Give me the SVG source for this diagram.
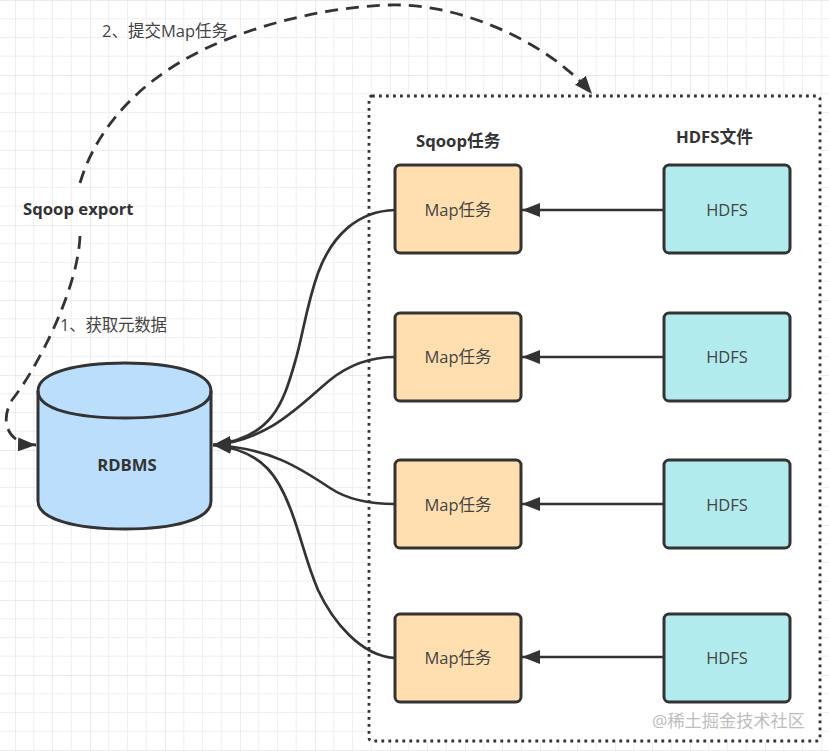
<svg xmlns="http://www.w3.org/2000/svg" width="829" height="751" viewBox="0 0 829 751">
<style>
text{font-family:"Open Sans","Noto Sans CJK SC",sans-serif;fill:#333;}
.lbl{font-size:16.5px;fill:#444;font-family:"Open Sans","Noto Sans CJK SC",sans-serif;}
.ctr{text-anchor:middle;}
.b{font-weight:700;font-size:16.7px;font-family:"Open Sans","Noto Sans CJK SC",sans-serif;}
.box{stroke:#333;stroke-width:3;}
.map rect{fill:#ffdfb0;}
.hdfs rect{fill:#b2ebee;}
.node-t{font-size:16.5px;fill:#444;font-family:"Open Sans","Noto Sans CJK SC",sans-serif;text-anchor:middle;}
.c{fill:none;stroke:#333;stroke-width:2.7;}
.d{fill:none;stroke:#333;stroke-width:2.8;stroke-dasharray:13 8;}
</style>
<defs>
<pattern id="g" width="75" height="75" patternUnits="userSpaceOnUse" x="15" y="0">
<path d="M18.75 0V75M37.5 0V75M56.25 0V75M0 18.75H75M0 37.5H75M0 56.25H75" fill="none" stroke="#efefef" stroke-width="1"/>
<path d="M0 0V75M0 0H75" fill="none" stroke="#e6e6e6" stroke-width="1.4"/>
</pattern>
<marker id="a" markerUnits="userSpaceOnUse" markerWidth="20" markerHeight="16" refX="18" refY="7" orient="auto">
<path d="M0 0L18 7L0 14Z" fill="#333"/>
</marker>
</defs>
<rect width="829" height="751" fill="#fff"/>
<rect width="829" height="751" fill="url(#g)"/>
<rect x="369" y="96" width="451" height="645" fill="#fff" stroke="#333" stroke-width="2.8" stroke-dasharray="2.8 4.2" rx="3"/>
<g id="connectors">
<path class="d" d="M80 183C98 122 150 68 233 37C275 21 330 7 390 5C460 3 548 42 592 94" marker-end="url(#a)"/>
<path class="d" d="M80 236C78 290 36 370 12 400C0 420 6 444 36 445" marker-end="url(#a)"/>
<path class="c" d="M395 210C358 211 332 235 318 273C306 307 303 335 295 362C283 404 272 438 213 445" marker-end="url(#a)"/>
<path class="c" d="M395 357C365 357 345 368 330 380C300 405 270 440 213 445" marker-end="url(#a)"/>
<path class="c" d="M395 504C365 504 345 498 330 488C300 468 270 448 213 445" marker-end="url(#a)"/>
<path class="c" d="M395 658C360 656 332 620 318 590C306 562 302 540 292 513C280 480 265 450 213 445" marker-end="url(#a)"/>
<path class="c" d="M664 210H522" marker-end="url(#a)"/>
<path class="c" d="M664 357H522" marker-end="url(#a)"/>
<path class="c" d="M664 504H522" marker-end="url(#a)"/>
<path class="c" d="M664 657H522" marker-end="url(#a)"/>
</g>
<g id="rdbms">
<path d="M38 391C38 372 78 363 125 363C172 363 211 372 211 391V501C211 520 172 529 125 529C78 529 38 520 38 501Z" fill="#bbdefd" class="box"/>
<path d="M38 391C38 410 78 418 125 418C172 418 211 410 211 391" fill="none" class="box"/>
<text x="127" y="471" class="b ctr">RDBMS</text>
</g>
<g id="map1" class="map"><rect class="box" x="395" y="165" width="126" height="88" rx="5"/><text class="node-t" x="458" y="216">Map任务</text></g>
<g id="map2" class="map"><rect class="box" x="395" y="313" width="126" height="88" rx="5"/><text class="node-t" x="458" y="363">Map任务</text></g>
<g id="map3" class="map"><rect class="box" x="395" y="460" width="126" height="88" rx="5"/><text class="node-t" x="458" y="511">Map任务</text></g>
<g id="map4" class="map"><rect class="box" x="395" y="614" width="126" height="88" rx="5"/><text class="node-t" x="458" y="664">Map任务</text></g>
<g id="hdfs1" class="hdfs"><rect class="box" x="664" y="165" width="126" height="88" rx="5"/><text class="node-t" x="727" y="216">HDFS</text></g>
<g id="hdfs2" class="hdfs"><rect class="box" x="664" y="313" width="126" height="88" rx="5"/><text class="node-t" x="727" y="363">HDFS</text></g>
<g id="hdfs3" class="hdfs"><rect class="box" x="664" y="460" width="126" height="88" rx="5"/><text class="node-t" x="727" y="511">HDFS</text></g>
<g id="hdfs4" class="hdfs"><rect class="box" x="664" y="614" width="126" height="88" rx="5"/><text class="node-t" x="727" y="664">HDFS</text></g>
<text class="lbl" x="102" y="37">2、提交Map任务</text>
<text class="b" x="23" y="215">Sqoop export</text>
<text class="lbl" x="60" y="331" textLength="107">1、获取元数据</text>
<text class="b" x="416" y="147">Sqoop任务</text>
<text class="b" x="676" y="143">HDFS文件</text>
<text x="652" y="727" style="font-size:17.2px;fill:#bdbdbd;font-family:'Open Sans','Noto Sans CJK SC',sans-serif">@稀土掘金技术社区</text>
</svg>
